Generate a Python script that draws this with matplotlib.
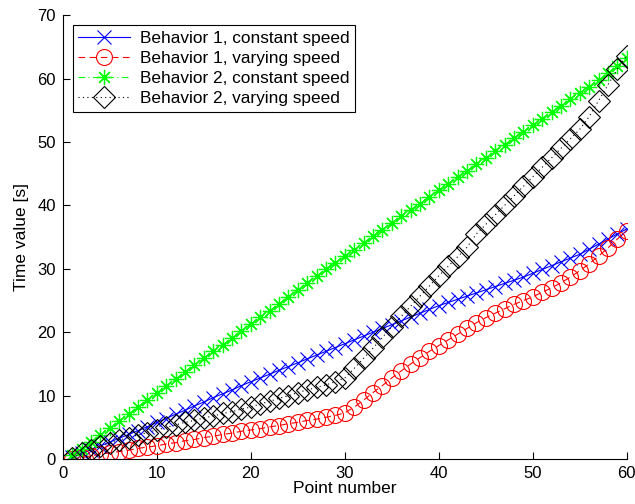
import matplotlib
matplotlib.use("Agg")
import matplotlib.pyplot as plt
import numpy as np

plt.rcParams['font.family'] = ['Liberation Sans', 'DejaVu Sans']

points = list(range(1, 61))

# behavior 1, constant speed
b1_const = [0.3, 0.9, 1.5, 2.1, 2.7, 3.3, 3.9, 4.5, 5.1, 5.8,
            6.4, 7.1, 7.7, 8.4, 9.0, 9.7, 10.3, 10.9, 11.6, 12.2,
            12.8, 13.4, 14.0, 14.6, 15.2, 15.8, 16.4, 17.0, 17.6, 18.2,
            18.8, 19.4, 20.0, 20.6, 21.2, 21.8, 22.4, 23.0, 23.6, 24.2,
            24.7, 25.2, 25.7, 26.2, 26.7, 27.2, 27.7, 28.2, 28.7, 29.3,
            29.9, 30.5, 31.1, 31.7, 32.3, 33.1, 33.9, 34.7, 35.5, 36.3]

# behavior 1, varying speed
b1_vary = [0.0, 0.3, 0.5, 0.8, 1.0, 1.2, 1.4, 1.7, 1.9, 2.1,
           2.4, 2.6, 2.9, 3.1, 3.4, 3.6, 3.9, 4.1, 4.4, 4.6,
           4.8, 5.1, 5.3, 5.6, 5.8, 6.1, 6.3, 6.6, 6.9, 7.3,
           8.2, 9.3, 10.5, 11.6, 12.8, 13.9, 15.0, 16.0, 17.0, 17.9,
           18.8, 19.7, 20.6, 21.5, 22.3, 23.0, 23.7, 24.4, 25.0, 25.6,
           26.3, 27.0, 27.8, 28.7, 29.7, 30.8, 32.0, 33.3, 34.7, 36.0]

# behavior 2, constant speed
b2_const = [0.6, 1.6, 2.7, 3.8, 4.9, 6.0, 7.1, 8.2, 9.3, 10.4,
            11.5, 12.6, 13.7, 14.8, 15.9, 17.0, 18.0, 19.1, 20.2, 21.3,
            22.4, 23.4, 24.5, 25.6, 26.7, 27.7, 28.8, 29.9, 30.9, 32.0,
            33.0, 34.1, 35.1, 36.2, 37.2, 38.3, 39.3, 40.3, 41.4, 42.4,
            43.4, 44.5, 45.5, 46.5, 47.5, 48.6, 49.6, 50.6, 51.6, 52.6,
            53.7, 54.7, 55.7, 56.7, 57.7, 58.7, 59.7, 60.8, 61.9, 63.2]

# behavior 2, varying speed
b2_vary = [0.2, 0.9, 1.5, 2.0, 2.5, 3.0, 3.4, 3.8, 4.2, 4.6,
           5.0, 5.4, 5.8, 6.1, 6.5, 6.8, 7.2, 7.5, 7.9, 8.2,
           8.7, 9.1, 9.6, 10.0, 10.5, 10.9, 11.3, 11.7, 12.2, 12.8,
           14.3, 15.9, 17.5, 19.2, 20.9, 22.5, 24.1, 25.7, 27.3, 28.9,
           30.4, 31.9, 33.4, 35.5, 37.0, 38.5, 40.0, 41.5, 43.0, 44.5,
           46.0, 47.5, 49.0, 50.5, 52.0, 54.0, 56.5, 59.0, 61.5, 63.6]

labels = ["Behavior 1, constant speed", "Behavior 1, varying speed",
          "Behavior 2, constant speed", "Behavior 2, varying speed"]

# eight-spoke asterisk like MATLAB's '*'
ASTERISK = (8, 2, 0)

fig = plt.figure(figsize=(6.35, 5.04), dpi=100)
ax = fig.add_axes([0.099, 0.089, 0.888, 0.881])

ax.plot(points, b1_const, color='#0000ff', linestyle='-', linewidth=0.8,
        marker='x', markersize=10, markeredgewidth=0.8, label=labels[0])
ax.plot(points, b1_vary, color='#ff0000', linestyle=(0, (6, 4)), linewidth=0.8,
        marker='o', markersize=11.5, markerfacecolor='none', markeredgewidth=0.8,
        label=labels[1])
ax.plot(points, b2_const, color='#00ff00', linestyle=(0, (6, 3, 1, 3)),
        linewidth=0.8, marker=ASTERISK, markersize=11, markeredgewidth=0.9,
        label=labels[2])
ax.plot(points, b2_vary, color='black', linestyle=(0, (1, 3)), linewidth=0.8,
        marker='D', markersize=11, markerfacecolor='none', markeredgewidth=0.8,
        label=labels[3])

ax.set_xlim(0, 60)
ax.set_ylim(0, 70)
ax.set_xticks(np.arange(0, 61, 10))
ax.set_yticks(np.arange(0, 71, 10))
ax.tick_params(direction='in', length=5, labelsize=12, width=0.8, pad=5)
ax.spines['top'].set_visible(False)
ax.spines['right'].set_visible(False)
ax.set_xlabel("Point number", fontsize=12.5, labelpad=0)
ax.set_ylabel("Time value [s]", fontsize=12.5, labelpad=6)

leg = ax.legend(loc='upper left', fontsize=12.4, fancybox=False, framealpha=1,
                edgecolor='black', handlelength=3.0, handletextpad=0.6,
                borderpad=0.3, labelspacing=0.3, borderaxespad=0.6)
leg.get_frame().set_linewidth(0.8)

fig.savefig("out.png", dpi=100)
